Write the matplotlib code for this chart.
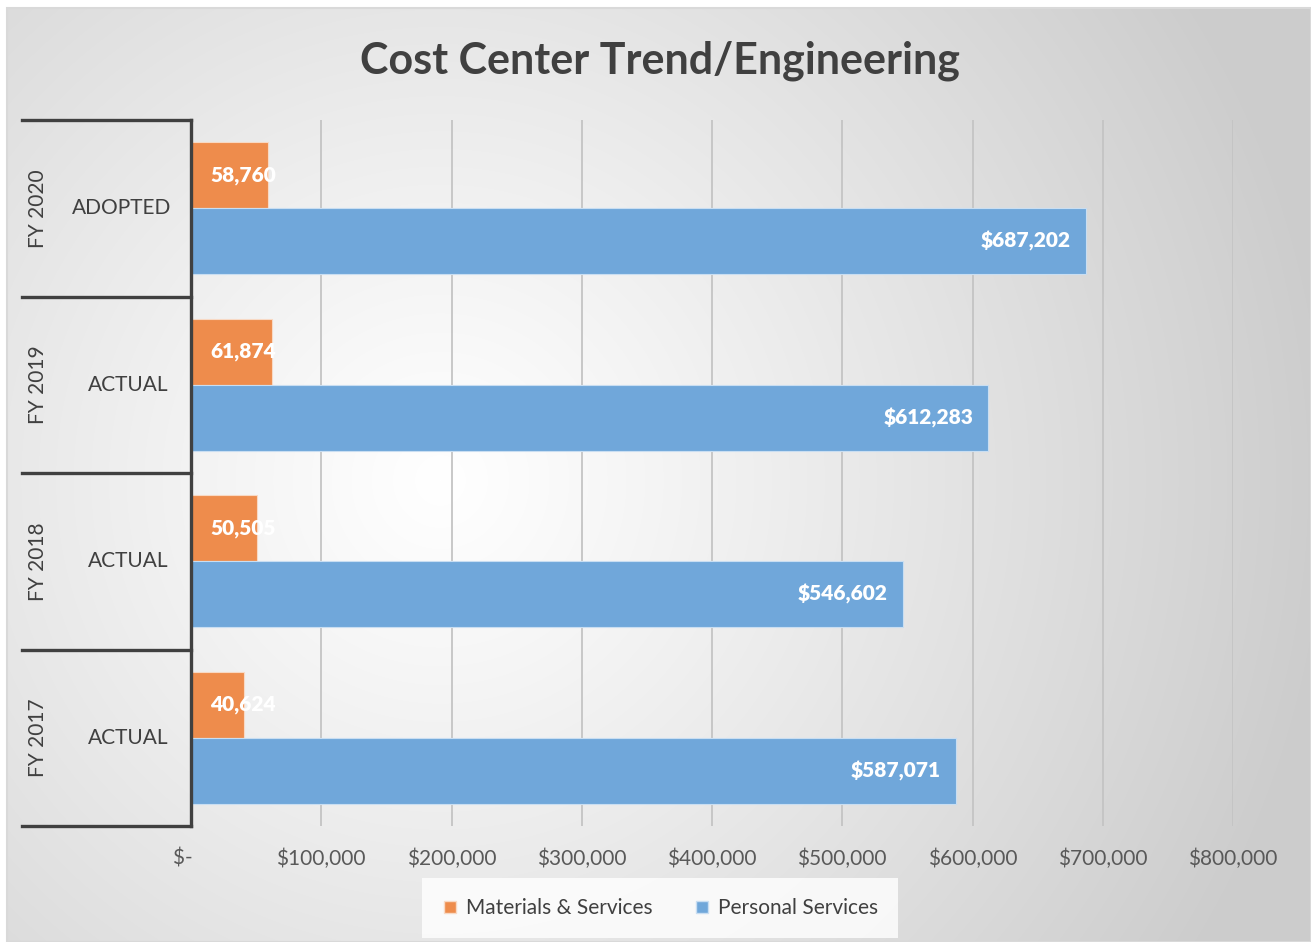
import numpy as np
import matplotlib
matplotlib.use("Agg")
import matplotlib.pyplot as plt
from matplotlib.lines import Line2D
from matplotlib.patches import Rectangle
import matplotlib.transforms as mtransforms

# ---- data ----
years = ["FY 2017", "FY 2018", "FY 2019", "FY 2020"]
stages = ["ACTUAL", "ACTUAL", "ACTUAL", "ADOPTED"]
materials = [40624, 50505, 61874, 58760]
personal = [587071, 546602, 612283, 687202]
series_names = ["Materials & Services", "Personal Services"]
xticks = [0, 100000, 200000, 300000, 400000, 500000, 600000, 700000, 800000]
xtick_labels = ["$-   ", "$100,000", "$200,000", "$300,000", "$400,000",
                "$500,000", "$600,000", "$700,000", "$800,000"]
title = "Cost Center Trend/Engineering"

plt.rcParams['font.family'] = ['Lato', 'DejaVu Sans']

W, H = 1311, 942
fig = plt.figure(figsize=(W / 100, H / 100), dpi=100)
fig.patch.set_facecolor("white")

# ---- radial gradient background ----
bg = fig.add_axes([7 / W, 0, 1 - 7 / W, 1 - 8 / H], zorder=-10)
yy, xx = np.mgrid[0:H - 8, 0:W - 7]
cx, cy = 440, 480
r = np.sqrt((xx + 7 - cx) ** 2 + (yy + 8 - cy) ** 2)
t = np.clip(r / 900.0, 0, 1) ** 1.1
g = 1.0 - t * (1.0 - 0.80)
img = np.dstack([g, g, g])
bg.imshow(img, aspect="auto", extent=[0, 1, 0, 1], origin="upper")
bg.set_axis_off()
fig.add_artist(Rectangle((7 / W, 0), 1 - 7 / W, 1 - 8 / H, transform=fig.transFigure,
                         fill=False, edgecolor="#d9d9d9", lw=1.5, zorder=-5))

# ---- main axes ----
left, right, top, bottom = 191, 1233, 120, 826
ax = fig.add_axes([left / W, 1 - bottom / H, (right - left) / W, (bottom - top) / H])
ax.set_facecolor("none")

y = np.arange(len(years))
h = 0.375
orange = "#EE8C4C"
blue = "#70A7DA"
ax.barh(y + h / 2, materials, height=h, color=orange, edgecolor="#f8d9c4", lw=0.8,
        label=series_names[0], zorder=3)
ax.barh(y - h / 2, personal, height=h, color=blue, edgecolor="#c9def2", lw=0.8,
        label=series_names[1], zorder=3)

for yi, v in zip(y, materials):
    ax.annotate(f"{v:,}", xy=(0, yi + h / 2), xytext=(14.0, 0), textcoords="offset points",
                ha="left", va="center", color="white", fontsize=15, fontweight="heavy", zorder=5)
for yi, v in zip(y, personal):
    ax.annotate(f"${v:,}", xy=(v, yi - h / 2), xytext=(-10.8, 0), textcoords="offset points",
                ha="right", va="center", color="white", fontsize=15, fontweight="heavy", zorder=5)

ax.set_xlim(0, 800000)
ax.set_ylim(-0.5, len(years) - 0.5)
ax.set_xticks(xticks)
ax.set_xticklabels(xtick_labels, fontsize=15, color="#595959")
ax.tick_params(axis="x", length=0, pad=16)
ax.set_yticks([])
ax.grid(axis="x", color="#c4c4c4", lw=1.3, zorder=0)
for s in ["top", "right", "bottom"]:
    ax.spines[s].set_visible(False)
ax.spines["left"].set_color("#404040")
ax.spines["left"].set_linewidth(2.4)
ax.spines["left"].set_zorder(6)

# ---- hierarchical category axis ----
tr = mtransforms.blended_transform_factory(fig.transFigure, ax.transData)
for b in np.arange(-0.5, len(years), 1.0):
    ax.add_line(Line2D([22 / W, left / W], [b, b], transform=tr, color="#404040",
                       lw=2.4, clip_on=False, solid_capstyle="projecting"))
for yi, (yr, st) in enumerate(zip(years, stages)):
    ax.text(38 / W, yi, yr, transform=tr, rotation=90, ha="center", va="center",
            fontsize=15, color="#404040")
    ax.text(122 / W if st == "ADOPTED" else 128 / W, yi, st, transform=tr, ha="center",
            va="center", fontsize=15, color="#404040")

# ---- title ----
fig.text(660 / W, 1 - 61 / H, title, ha="center", va="center", fontsize=31,
         fontweight="bold", color="#404040")

# ---- legend ----
leg = fig.legend(handles=[
    Line2D([], [], marker="s", ls="none", markersize=8.5, markerfacecolor=orange,
           markeredgecolor="#f8d9c4", label=series_names[0]),
    Line2D([], [], marker="s", ls="none", markersize=8.5, markerfacecolor=blue,
           markeredgecolor="#c9def2", label=series_names[1])],
    loc="center", bbox_to_anchor=(660 / W, 1 - 908 / H), ncol=2, fontsize=15,
    frameon=True, handlelength=0.8, handletextpad=0.35, columnspacing=2.0,
    borderpad=0.45)
leg.get_frame().set_facecolor((1, 1, 1, 0.3))
leg.get_frame().set_edgecolor("none")
leg.get_frame().set_boxstyle("square", pad=0.5)
for tx in leg.get_texts():
    tx.set_color("#404040")

fig.savefig("out.png", dpi=100)
